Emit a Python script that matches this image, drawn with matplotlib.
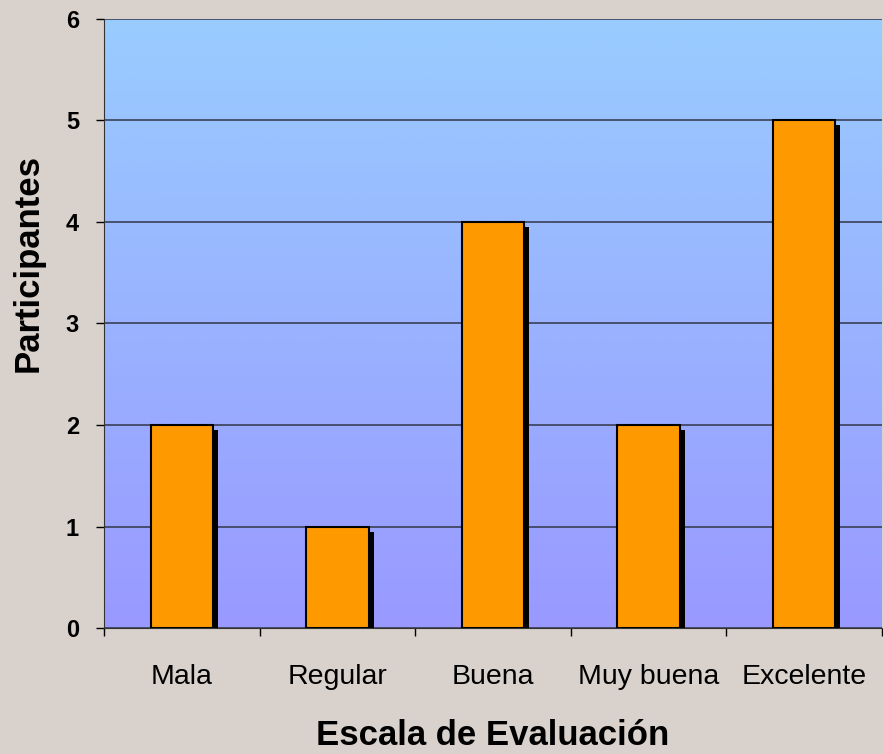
import matplotlib.pyplot as plt
import matplotlib.patheffects as pe
import numpy as np
from matplotlib.colors import LinearSegmentedColormap

categorias = ["Mala", "Regular", "Buena", "Muy buena", "Excelente"]
participantes = [2, 1, 4, 2, 5]
y_ticks = [0, 1, 2, 3, 4, 5, 6]

plt.rcParams['font.family'] = ['Liberation Sans', 'DejaVu Sans']

fig = plt.figure(figsize=(8.83, 7.54), dpi=100, facecolor="#d9d1cb")
ax = fig.add_axes([0.1178, 0.167, 0.881, 0.808])

# fondo degradado del area de trazado
grad = LinearSegmentedColormap.from_list("fondo", ["#9999ff", "#99ccff"])
ax.imshow(np.linspace(0, 1, 256).reshape(-1, 1), cmap=grad, origin="lower",
          aspect="auto", extent=[-0.5, len(categorias) - 0.5, 0, 6], zorder=0)

x = np.arange(len(categorias))
barras = ax.bar(x, participantes, width=0.4, color="#ff9900", edgecolor="black",
                linewidth=1.5, zorder=3)
for b in barras:
    b.set_path_effects([pe.SimplePatchShadow(offset=(3.6, -3.6), shadow_rgbFace="black", alpha=1),
                        pe.Normal()])

ax.set_xlim(-0.5, len(categorias) - 0.5)
ax.set_ylim(0, 6)
ax.set_yticks(y_ticks)
ax.set_yticklabels([str(v) for v in y_ticks], fontsize=17, fontweight="bold")
ax.yaxis.grid(True, color="#3a3f55", linewidth=1.2, zorder=1)
ax.set_axisbelow(True)

# marcas del eje x en los limites entre categorias, etiquetas centradas
ax.set_xticks(np.arange(len(categorias) + 1) - 0.5)
ax.set_xticklabels([])
ax.set_xticks(x, minor=True)
ax.set_xticklabels(categorias, minor=True, fontsize=20.5)
ax.tick_params(axis="x", which="minor", length=0, pad=26)
ax.tick_params(axis="x", which="major", length=6, width=1, direction="out")
ax.tick_params(axis="y", length=6, width=1, direction="out", pad=12)

for s in ["top", "right"]:
    ax.spines[s].set_visible(False)
ax.spines["left"].set_color("#333333")
ax.spines["bottom"].set_color("#333333")

ax.set_xlabel("Escala de Evaluación", fontsize=25, fontweight="bold", labelpad=21)
ax.set_ylabel("Participantes", fontsize=25, fontweight="bold", va="center")
# titulo del eje y algo por encima del centro
ax.yaxis.set_label_coords(-0.098, 0.6)

fig.savefig("out.png", dpi=100, facecolor=fig.get_facecolor())
